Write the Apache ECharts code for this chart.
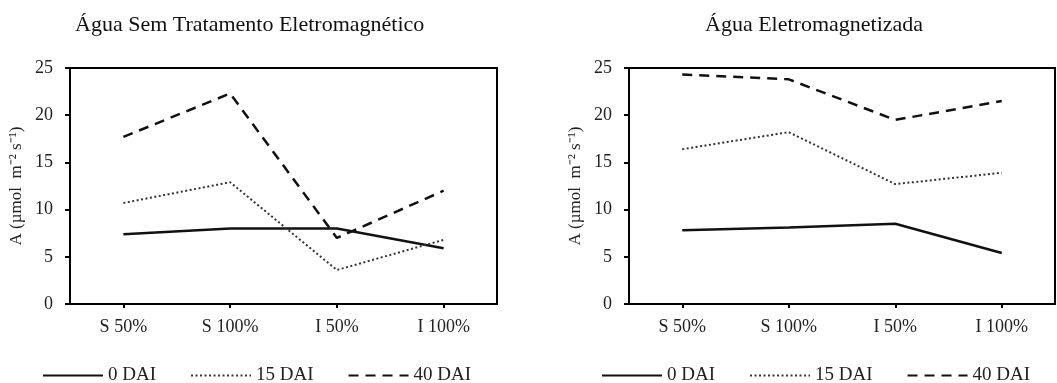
<!DOCTYPE html>
<html>
<head>
<meta charset="utf-8">
<script src="https://cdn.jsdelivr.net/npm/echarts@6/dist/echarts.min.js"></script>
<style>
  html, body { margin: 0; padding: 0; background: #fff; }
  #chart { width: 1057px; height: 383px; }
</style>
</head>
<body>
<div id="chart"></div>
<script>
// categorias e valores
var categories = ['S 50%', 'S 100%', 'I 50%', 'I 100%'];
var yTicks = [0, 5, 10, 15, 20, 25];
var seriesNames = ['0 DAI', '15 DAI', '40 DAI'];

// Agua sem tratamento eletromagnetico
var semDai0 = [7.4, 8.0, 8.0, 5.9];
var semDai15 = [10.7, 12.9, 3.6, 6.8];
var semDai40 = [17.7, 22.3, 7.0, 12.0];

// Agua eletromagnetizada
var eleDai0 = [7.8, 8.1, 8.5, 5.4];
var eleDai15 = [16.4, 18.2, 12.7, 13.9];
var eleDai40 = [24.3, 23.8, 19.5, 21.5];

var font = '"Liberation Serif", "Times New Roman", serif';
var ink = '#000';

var lineStyles = [
    { color: '#111', width: 2.5, type: 'solid' },
    { color: '#333', width: 2, type: [2, 2.5] },
    { color: '#111', width: 2.5, type: [10, 7] }
];

function xAxisFor(idx) {
    return {
        type: 'category',
        gridIndex: idx,
        data: categories,
        boundaryGap: true,
        axisLine: { show: true, lineStyle: { color: ink, width: 2 } },
        axisTick: { show: true, alignWithLabel: true, length: 4, lineStyle: { color: ink, width: 2 } },
        axisLabel: { color: '#222', fontFamily: font, fontSize: 18, margin: 14 },
        splitLine: { show: false }
    };
}

function yAxisFor(idx) {
    return {
        type: 'value',
        gridIndex: idx,
        min: yTicks[0],
        max: yTicks[yTicks.length - 1],
        interval: 5,
        name: 'A (µmol  m\u207B\u00B2 s\u207B\u00B9)',
        nameLocation: 'middle',
        nameGap: 45,
        nameTextStyle: { color: '#222', fontFamily: font, fontSize: 17 },
        axisLine: { show: true, lineStyle: { color: ink, width: 2 } },
        axisTick: { show: true, length: 5, lineStyle: { color: ink, width: 2 } },
        axisLabel: { color: '#222', fontFamily: font, fontSize: 18, margin: 17 },
        splitLine: { show: false }
    };
}

function makeSeries(idx, lists) {
    return lists.map(function (d, i) {
        return {
            name: seriesNames[i],
            type: 'line',
            xAxisIndex: idx,
            yAxisIndex: idx,
            data: d,
            symbol: 'none',
            lineStyle: lineStyles[i],
            itemStyle: { color: lineStyles[i].color },
            animation: false
        };
    });
}

function legendFor(idx, left) {
    return {
        data: seriesNames,
        left: left,
        top: 361,
        itemWidth: 60,
        itemHeight: 14,
        itemGap: 34,
        itemStyle: { opacity: 0, borderWidth: 0 },
        textStyle: { color: '#222', fontFamily: font, fontSize: 19 },
        selectedMode: false
    };
}

var chart = echarts.init(document.getElementById('chart'));
var option = {
    backgroundColor: '#fff',
    animation: false,
    title: [
        { text: 'Água Sem Tratamento Eletromagnético', left: 70, top: 9,
          textStyle: { color: '#111', fontFamily: font, fontSize: 22, fontWeight: 'normal' } },
        { text: 'Água Eletromagnetizada', left: 700, top: 9,
          textStyle: { color: '#111', fontFamily: font, fontSize: 22, fontWeight: 'normal' } }
    ],
    grid: [
        { left: 70, top: 68, width: 427, height: 236, show: true, borderColor: ink, borderWidth: 2, backgroundColor: 'transparent' },
        { left: 629, top: 68, width: 426, height: 236, show: true, borderColor: ink, borderWidth: 2, backgroundColor: 'transparent' }
    ],
    legend: [legendFor(0, 37), legendFor(1, 596)],
    xAxis: [xAxisFor(0), xAxisFor(1)],
    yAxis: [yAxisFor(0), yAxisFor(1)],
    series: makeSeries(0, [semDai0, semDai15, semDai40])
        .concat(makeSeries(1, [eleDai0, eleDai15, eleDai40]))
};
chart.setOption(option);
</script>
</body>
</html>
